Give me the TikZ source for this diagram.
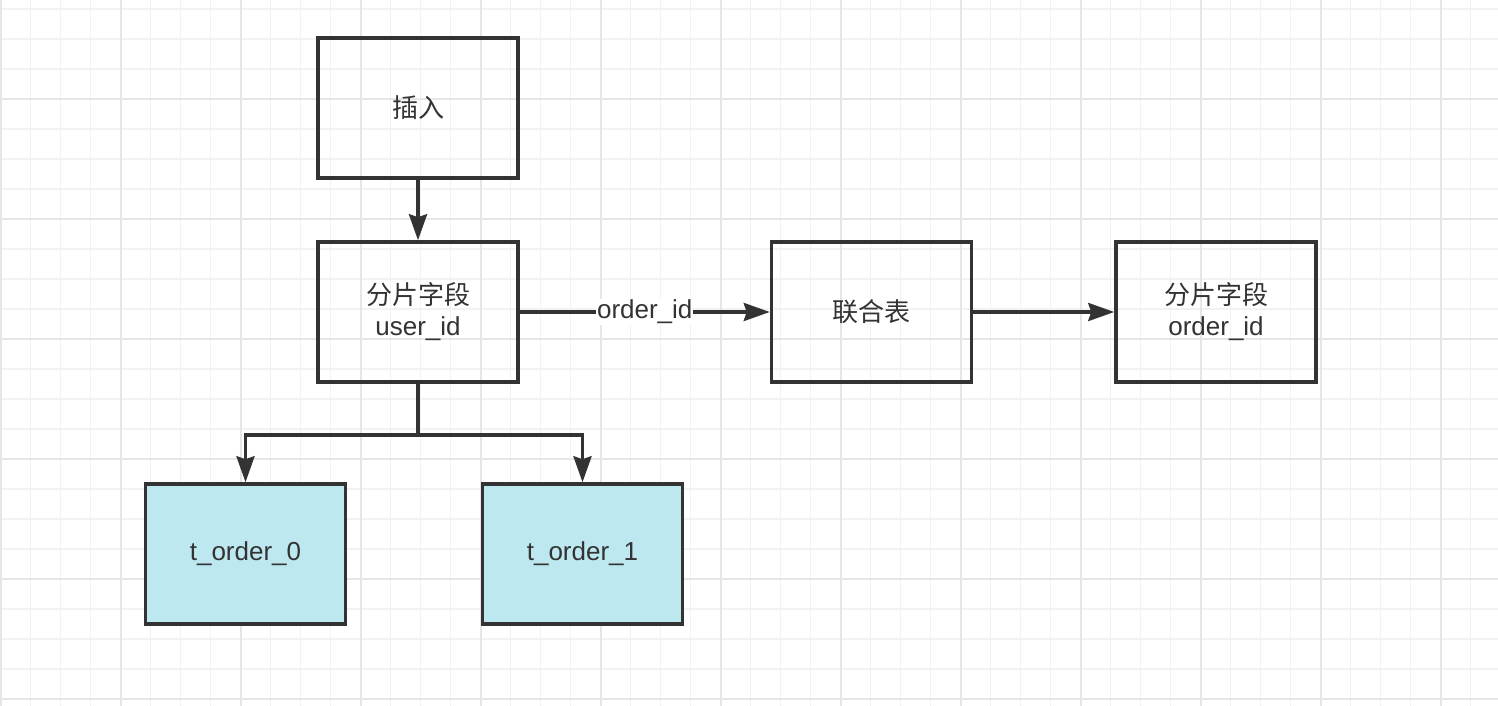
\documentclass[tikz,border=0pt]{standalone}
\usepackage{fontspec}
\setmainfont{Liberation Sans}
\newfontfamily\cjk{Noto Sans CJK SC}
\usetikzlibrary{arrows.meta}
\definecolor{ink}{HTML}{333333}
\definecolor{cyanfill}{HTML}{BDE8EF}
\definecolor{gridminor}{HTML}{F2F2F2}
\definecolor{gridmajor}{HTML}{E6E6E6}
\tikzset{
  box/.style={draw=ink, line width=3.5pt, rectangle, minimum width=200pt, minimum height=140pt,
    align=center, text=ink, font=\fontsize{26}{31}\selectfont, inner sep=0pt},
  tbox/.style={box, fill=cyanfill},
  arr/.style={draw=ink, line width=3.5pt, -{Stealth[length=26pt, width=18pt, inset=3pt]}},
  lbl/.style={fill=white, text=ink, font=\fontsize{26}{31}\selectfont, inner sep=1pt}
}
\begin{document}
\begin{tikzpicture}[x=1pt, y=-1pt]
\useasboundingbox (0,0) rectangle (1498,706);
\fill[white] (0,0) rectangle (1498,706);
% minor grid
\foreach \i in {0,...,49} {
  \draw[gridminor, line width=1.5pt] ({0.7+30*\i},0) -- ({0.7+30*\i},706);
}
\foreach \j in {0,...,23} {
  \draw[gridminor, line width=1.5pt] (0,{9+30*\j}) -- (1498,{9+30*\j});
}
% major grid
\foreach \i in {0,...,12} {
  \draw[gridmajor, line width=2pt] ({0.7+120*\i},0) -- ({0.7+120*\i},706);
}
\foreach \j in {0,...,5} {
  \draw[gridmajor, line width=2pt] (0,{99+120*\j}) -- (1498,{99+120*\j});
}
% nodes
\node[box] (ins) at (418,108) {\cjk 插入};
\node[box] (uid) at (418,312) {{\cjk 分片字段}\\user\_id};
\node[box] (lh) at (871.5,312) {\cjk 联合表};
\node[box] (oid) at (1216,312) {{\cjk 分片字段}\\order\_id};
\node[tbox] (t0) at (245.5,554) {t\_order\_0};
\node[tbox] (t1) at (582.5,554) {t\_order\_1};
% connectors
\draw[arr] (ins) -- (uid);
\draw[arr] (uid) -- node[lbl] {order\_id} (lh);
\draw[arr] (lh) -- (oid);
\coordinate (br) at ([yshift=-51pt]uid.south);
\draw[arr] (uid.south) -- (br) -| (t0.north);
\draw[arr] (uid.south) -- (br) -| (t1.north);
\end{tikzpicture}
\end{document}
